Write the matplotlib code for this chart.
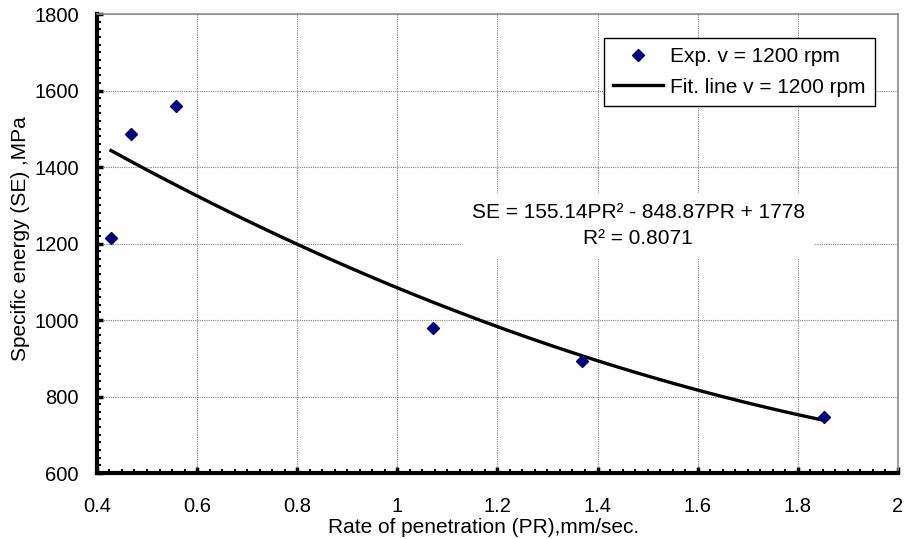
import numpy as np
import matplotlib
matplotlib.use("Agg")
import matplotlib.pyplot as plt
from matplotlib.ticker import MultipleLocator

plt.rcParams['font.family'] = ['Liberation Sans', 'DejaVu Sans']

# measured points at v = 1200 rpm
pr = np.array([0.428, 0.468, 0.558, 1.072, 1.37, 1.852])      # mm/sec
se = np.array([1215, 1486, 1560, 979, 892, 747])               # MPa

# quadratic trend line reported for the series
fit_a, fit_b, fit_c = 155.14, -848.87, 1778.0
fit_r2 = 0.8071

exp_label = "Exp. v = 1200 rpm"
fit_label = "Fit. line v = 1200 rpm"
eq_text = "SE = 155.14PR\u00b2 - 848.87PR + 1778\nR\u00b2 = 0.8071"

fig = plt.figure(figsize=(9.06, 5.39), dpi=100)
ax = fig.add_axes([0.107, 0.1224, 0.884, 0.8516])

pr_fit = np.linspace(pr.min(), pr.max(), 120)
se_fit = fit_a * pr_fit**2 + fit_b * pr_fit + fit_c

ax.plot(pr, se, linestyle="none", marker="D", markersize=6.6,
        color="#000080", label=exp_label, zorder=4)
ax.plot(pr_fit, se_fit, color="black", linewidth=2.4,
        label=fit_label, zorder=3)

ax.set_xlim(0.4, 2.0)
ax.set_ylim(600, 1800)
ax.xaxis.set_minor_locator(MultipleLocator(0.025))
ax.yaxis.set_major_locator(MultipleLocator(200))
ax.yaxis.set_minor_locator(MultipleLocator(20))
ax.set_xticks(np.arange(0.4, 2.01, 0.2))
ax.set_xticklabels(["0.4", "0.6", "0.8", "1", "1.2", "1.4", "1.6", "1.8", "2"])

ax.grid(True, which="major", color="#808080", linestyle=(0, (1, 1)),
        linewidth=0.8, zorder=0)

for side in ("left", "bottom"):
    ax.spines[side].set_color("black")
    ax.spines[side].set_linewidth(3.0)
for side in ("top", "right"):
    ax.spines[side].set_color("#8c8c8c")
    ax.spines[side].set_linewidth(1.2)

ax.tick_params(axis="both", which="major", direction="in", length=4,
               width=2.5, labelsize=14.5, color="black")
ax.tick_params(axis="both", which="minor", direction="in", length=3,
               width=1.5, color="black")
ax.tick_params(axis="y", which="major", pad=13)
ax.tick_params(axis="x", which="major", pad=17)

ax.set_xlabel("Rate of penetration (PR),mm/sec.", fontsize=15)
ax.xaxis.set_label_coords(0.483, -0.098)
ax.set_ylabel("Specific energy (SE) ,MPa", fontsize=15)
ax.yaxis.set_label_coords(-0.083, 0.51)

ax.text(1.481, 1247, eq_text, ha="center", va="center", fontsize=15,
        multialignment="center", linespacing=1.45, zorder=5,
        bbox=dict(facecolor="white", edgecolor="none", pad=7))

leg = ax.legend(loc="upper right", bbox_to_anchor=(0.971, 0.948),
                fontsize=15, numpoints=1, handlelength=2.4,
                fancybox=False, framealpha=1, borderpad=0.45,
                labelspacing=0.55, handletextpad=0.3, borderaxespad=0)
leg.get_frame().set_edgecolor("black")
leg.get_frame().set_linewidth(1.0)

fig.savefig("out.png", dpi=100)
